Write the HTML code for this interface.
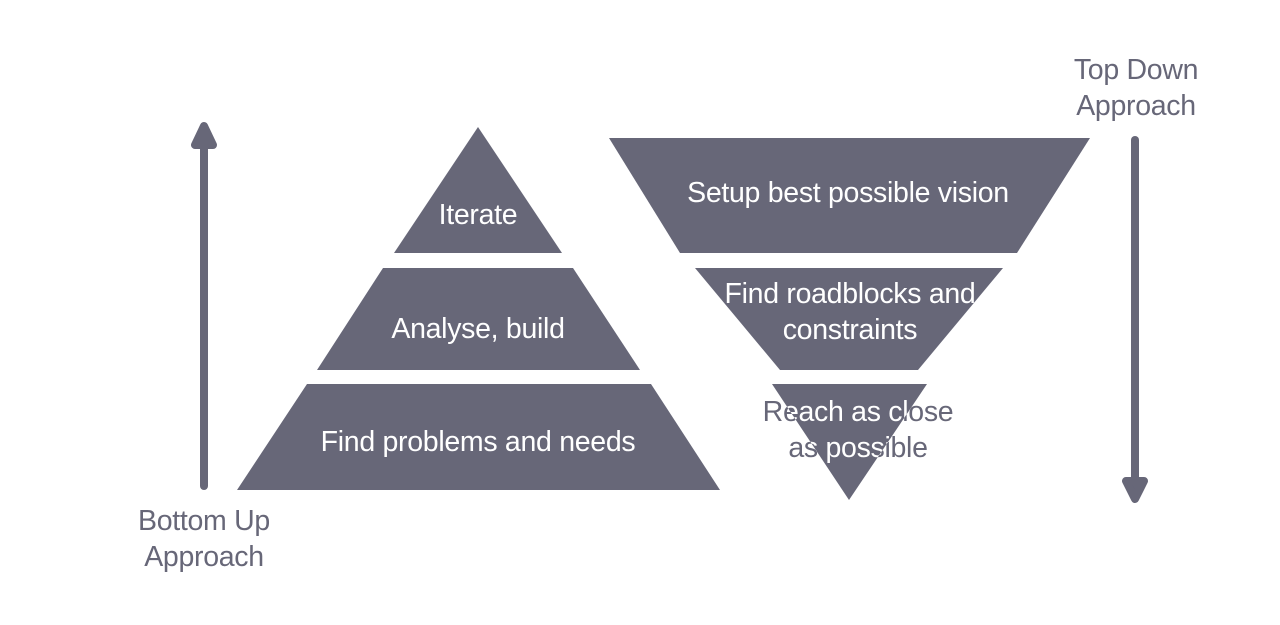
<!DOCTYPE html>
<html><head><meta charset="utf-8"><style>
html,body{margin:0;padding:0;background:#fff;width:1280px;height:625px;overflow:hidden}
text{font-family:"Liberation Sans",sans-serif;font-size:28.5px;text-anchor:middle;letter-spacing:-0.3px}
</style></head><body>
<svg width="1280" height="625" viewBox="0 0 1280 625" xmlns="http://www.w3.org/2000/svg">
<defs><clipPath id="tri"><polygon points="772,384 927,384 849,500"/></clipPath></defs>
<g fill="#676778">
<polygon points="478,127 562,253 394,253"/>
<polygon points="383,268 573,268 640,370 317,370"/>
<polygon points="307,384 651,384 720,490 237,490"/>
<polygon points="609,138 1090,138 1017,253 680,253"/>
<polygon points="695,268 1003,268 918,370 780,370"/>
<polygon points="772,384 927,384 849,500"/>
</g>
<g stroke="#676778" stroke-width="8" stroke-linecap="round" stroke-linejoin="round" fill="#676778">
<line x1="204" y1="486" x2="204" y2="145"/>
<polygon points="204,126 195,145 213,145"/>
<line x1="1135" y1="140" x2="1135" y2="482"/>
<polygon points="1135,499 1126,481 1144,481"/>
</g>
<g fill="#fff">
<text x="478" y="224">Iterate</text>
<text x="478" y="338">Analyse, build</text>
<text x="478" y="451">Find problems and needs</text>
<text x="848" y="202">Setup best possible vision</text>
<text x="850" y="303">Find roadblocks and</text>
<text x="850" y="339">constraints</text>
</g>
<g fill="#676778">
<text x="858" y="421">Reach as close</text>
<text x="858" y="457">as possible</text>
<text x="204" y="530">Bottom Up</text>
<text x="204" y="566">Approach</text>
<text x="1136" y="79">Top Down</text>
<text x="1136" y="115">Approach</text>
</g>
<g fill="#fff" clip-path="url(#tri)">
<text x="858" y="421">Reach as close</text>
<text x="858" y="457">as possible</text>
</g>
</svg>
</body></html>
